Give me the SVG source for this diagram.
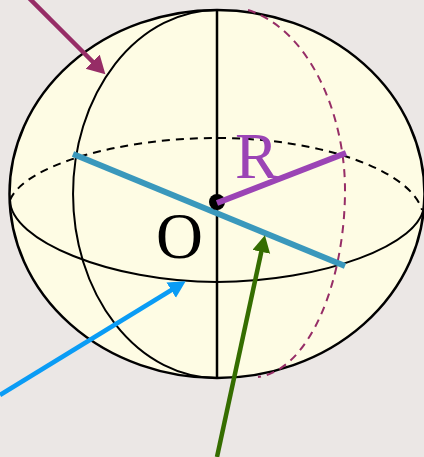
<svg xmlns="http://www.w3.org/2000/svg" width="424" height="457" viewBox="0 0 424 457">
<style>
.s{fill:none;stroke:#000;stroke-width:2}
.v{stroke-width:2.500}
.d{stroke-dasharray:8 6}
.l{font-family:"Liberation Serif",serif;font-size:65px}
</style>
<defs>
<marker id="am" markerUnits="userSpaceOnUse" markerWidth="22" markerHeight="22" refX="9" refY="10" orient="auto"><path d="M0 0L18 10L0 20z" fill="#962d66"/></marker>
<marker id="ab" markerUnits="userSpaceOnUse" markerWidth="22" markerHeight="22" refX="8" refY="9" orient="auto"><path d="M0 0L17 9L0 18z" fill="#0a9cf5"/></marker>
<marker id="ag" markerUnits="userSpaceOnUse" markerWidth="22" markerHeight="22" refX="8" refY="9" orient="auto"><path d="M0 0L17 9L0 18z" fill="#356d00"/></marker>
</defs>
<rect width="424" height="457" fill="#ebe7e5"/>
<g id="sphere"><ellipse cx="217" cy="194" rx="207.500" ry="184" fill="#fefce4" stroke="#000" stroke-width="2.500"/></g>
<g id="lines">
<path class="s" d="M217 10A144 184 0 0 0 217 378"/>
<path class="s" d="M10 200C10 240 110 282 217 282C320 282 424 245 424 204"/>
<path class="s d" d="M10 200C25 165 120 138 217 138C320 138 410 170 422 210"/>
<path class="s v" d="M217 10V378"/>
<path fill="none" stroke="#962d66" stroke-width="2" stroke-dasharray="8 6" d="M248 10C310 30 345 115 345 190C345 280 310 370 258 377"/>
</g>
<g id="radius">
<path fill="none" stroke="#3a98bc" stroke-width="6" d="M73 154L345 266"/>
<circle cx="217" cy="202" r="8" fill="#000"/>
<path fill="none" stroke="#9b44b5" stroke-width="6" d="M217 203L346 153"/>
</g>
<g id="labels">
<text class="l" x="235" y="178" fill="#9b44b5">R</text>
<text class="l" x="156" y="258" fill="#000">O</text>
</g>
<g id="connectors" fill="none" stroke-width="4.500">
<path stroke="#962d66" d="M29 -2L99 68" marker-end="url(#am)"/>
<path stroke="#0a9cf5" d="M0 395L178 286" marker-end="url(#ab)"/>
<path stroke="#356d00" d="M217 457L263 244" marker-end="url(#ag)"/>
</g>
</svg>
